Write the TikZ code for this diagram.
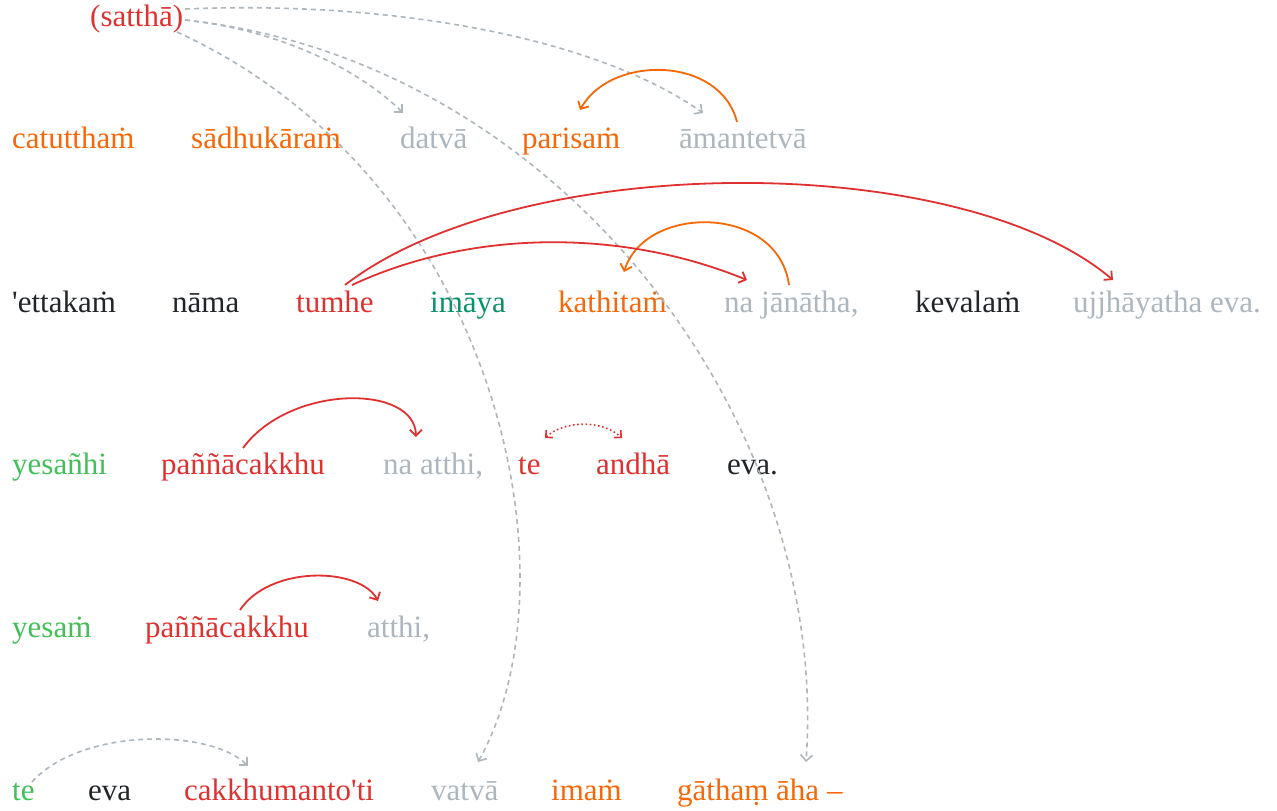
\documentclass[tikz,border=0pt]{standalone}
\usepackage{fontspec}
\setmainfont{Liberation Serif}
\usetikzlibrary{arrows.meta,calc}
\definecolor{cOrange}{HTML}{F76707}
\definecolor{cRed}{HTML}{E03131}
\definecolor{cGray}{HTML}{ADB5BD}
\definecolor{cGreen}{HTML}{40C057}
\definecolor{cTeal}{HTML}{099268}
\definecolor{cBlack}{HTML}{212529}
\tikzset{
  word/.style={anchor=base west, inner sep=0pt, font=\fontsize{31}{36}\selectfont},
  wOrange/.style={word, text=cOrange},
  wRed/.style={word, text=cRed},
  wGray/.style={word, text=cGray},
  wGreen/.style={word, text=cGreen},
  wTeal/.style={word, text=cTeal},
  wBlack/.style={word, text=cBlack},
  tip/.style={-{Straight Barb[length=6pt,width=12pt]}},
  redarc/.style={draw=cRed, line width=1.8pt, tip},
  orangearc/.style={draw=cOrange, line width=1.8pt, tip},
  grayarc/.style={draw=cGray, line width=1.6pt, dash pattern=on 5pt off 4pt, tip},
  dotarc/.style={draw=cRed, line width=1.6pt, dash pattern=on 1.6pt off 2.6pt, {Straight Barb[length=5pt,width=10pt]}-{Straight Barb[length=5pt,width=10pt]}}
}
\begin{document}
\begin{tikzpicture}[x=1pt,y=-1pt]
\useasboundingbox (0,0) rectangle (1277,811);
% row 0
\node[wRed] (sattha) at (90,26) {(satthā)};
% row 1
\node[wOrange] (catuttham) at (12,148) {catutthaṁ};
\node[wOrange] (sadhukaram) at (191,148) {sādhukāraṁ};
\node[wGray] (datva) at (400,148) {datvā};
\node[wOrange] (parisam) at (522,148) {parisaṁ};
\node[wGray] (amantetva) at (679,148) {āmantetvā};
% row 2
\node[wBlack] (ettakam) at (12,312) {\textquotesingle ettakaṁ};
\node[wBlack] (nama) at (172,312) {nāma};
\node[wRed] (tumhe) at (296,312) {tumhe};
\node[wTeal] (imaya) at (430,312) {imāya};
\node[wOrange] (kathitam) at (558,312) {kathitaṁ};
\node[wGray] (najanatha) at (724,312) {na jānātha,};
\node[wBlack] (kevalam) at (915,312) {kevalaṁ};
\node[wGray] (ujjhayatha) at (1073,312) {ujjhāyatha eva.};
% row 3
\node[wGreen] (yesanhi) at (12,474) {yesañhi};
\node[wRed] (pannaA) at (161,474) {paññācakkhu};
\node[wGray] (naatthi) at (383,474) {na atthi,};
\node[wRed] (teA) at (518,474) {te};
\node[wRed] (andha) at (596,474) {andhā};
\node[wBlack] (evaA) at (727,474) {eva.};
% row 4
\node[wGreen] (yesam) at (12,637) {yesaṁ};
\node[wRed] (pannaB) at (145,637) {paññācakkhu};
\node[wGray] (atthi) at (367,637) {atthi,};
% row 5
\node[wGreen] (teB) at (12,800) {te};
\node[wBlack] (evaB) at (88,800) {eva};
\node[wRed] (cakkhu) at (184,800) {cakkhumanto\textquotesingle ti};
\node[wGray] (vatva) at (431,800) {vatvā};
\node[wOrange] (imam) at (551,800) {imaṁ};
\node[wOrange] (gatham) at (677,800) {gāthaṃ āha –};
% connectors from satthā
\draw[grayarc] ([shift={(95,-6)}]sattha.base west) .. controls +(95,10) and +(-43,-43) .. ([shift={(3,-35)}]datva.base west);
\draw[grayarc] ([shift={(95,-17)}]sattha.base west) .. controls +(215,-9) and +(-103,-73) .. ([shift={(24,-35)}]amantetva.base west);
\draw[grayarc] ([shift={(87,6)}]sattha.base west) .. controls +(323,148) and +(102,-182) .. ([shift={(47,-38)}]vatva.base west);
\draw[grayarc] ([shift={(95,-6)}]sattha.base west) .. controls +(375,40) and +(24,-342) .. ([shift={(129,-38)}]gatham.base west);
% row 1
\draw[orangearc] ([shift={(58,-26)}]amantetva.base west) .. controls +(-17,-67) and +(30,-55) .. ([shift={(58,-38)}]parisam.base west);
% row 2
\draw[orangearc] ([shift={(65,-27)}]najanatha.base west) .. controls +(-11,-81) and +(21,-68) .. ([shift={(66,-40)}]kathitam.base west);
\draw[redarc] ([shift={(49,-27)}]tumhe.base west) .. controls +(175,-135) and +(-153,-130) .. ([shift={(40,-32)}]ujjhayatha.base west);
\draw[redarc] ([shift={(56,-27)}]tumhe.base west) .. controls +(118,-55) and +(-127,-52) .. ([shift={(23,-32)}]najanatha.base west);
% row 3
\draw[redarc] ([shift={(82,-26)}]pannaA.base west) .. controls +(47,-64) and +(-1,-53) .. ([shift={(33,-37)}]naatthi.base west);
\draw[dotarc] ([shift={(27,-36)}]teA.base west) .. controls +(20,-18) and +(-20,-18) .. ([shift={(26,-36)}]andha.base west);
% row 4
\draw[redarc] ([shift={(95,-27)}]pannaB.base west) .. controls +(30,-45) and +(-18,-34) .. ([shift={(11,-36)}]atthi.base west);
% row 5
\draw[grayarc] ([shift={(20,-18)}]teB.base west) .. controls +(48,-54) and +(-38,-38) .. ([shift={(64,-34)}]cakkhu.base west);
\end{tikzpicture}
\end{document}
